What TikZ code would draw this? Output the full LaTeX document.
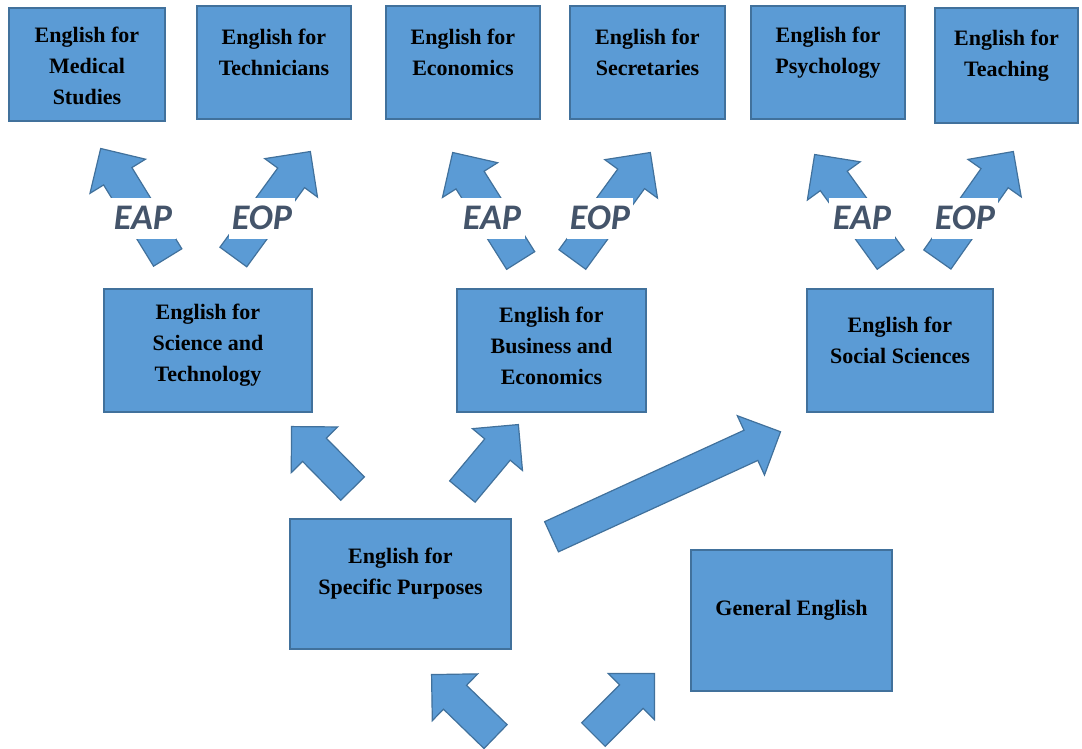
\documentclass[tikz,border=0pt]{standalone}
\usepackage{fontspec}
\setmainfont{Liberation Serif}
\newfontfamily\tagfont{Carlito}
\usetikzlibrary{shapes.arrows,calc}

\definecolor{boxfill}{HTML}{5B9BD5}
\definecolor{boxline}{HTML}{41719C}
\definecolor{tagcol}{HTML}{44546A}

\tikzset{
  box/.style={draw=boxline, fill=boxfill, line width=2.5pt, inner sep=0pt},
  boxtxt/.style={font=\fontsize{22}{31}\selectfont\bfseries, align=center, text=black},
  barrow/.style={single arrow, draw=boxline, fill=boxfill, line width=1.2pt,
                 inner xsep=0pt, inner ysep=16pt, single arrow head extend=16pt,
                 single arrow tip angle=90},
  tag/.style={font=\tagfont\fontsize{36}{36}\selectfont\bfseries\itshape, text=tagcol,
              fill=white, inner sep=0pt, minimum height=41pt, minimum width=66pt}
}

% block arrow from #2 (tail) to #3 (tip), named #1
\newcommand\blockarrow[3]{%
  \path let \p1=($(#3)-(#2)$), \n1={atan2(\y1,\x1)}, \n2={veclen(\x1,\y1)} in
    node[barrow, anchor=tail, rotate=\n1, minimum height=\n2] (#1) at (#2) {};}

\begin{document}
\begin{tikzpicture}[x=1pt, y=-1pt]
\useasboundingbox (0,0) rectangle (1082,749);

% Top row
\node[box, minimum width=156, minimum height=113] (med) at (87,64.5) {}; % Medical
\node[box, minimum width=154, minimum height=113] (tech) at (274,62.5) {}; % Technicians
\node[box, minimum width=154, minimum height=113] (econ) at (463,62.5) {}; % Economics
\node[box, minimum width=155, minimum height=113] (secr) at (647.5,62.5) {}; % Secretaries
\node[box, minimum width=154, minimum height=113] (psych) at (828,62.5) {}; % Psychology
\node[box, minimum width=143, minimum height=115] (teach) at (1006.5,65.5) {}; % Teaching

\node[boxtxt] (medT) at ([yshift=-1pt]med.center) {English for\\Medical\\Studies};
\node[boxtxt] (techT) at ([yshift=10pt]tech.center) {English for\\Technicians};
\node[boxtxt] (econT) at ([yshift=10pt]econ.center) {English for\\Economics};
\node[boxtxt] (secrT) at ([yshift=10pt]secr.center) {English for\\Secretaries};
\node[boxtxt] (psychT) at ([yshift=10pt]psych.center) {English for\\Psychology};
\node[boxtxt] (teachT) at ([yshift=10pt]teach.center) {English for\\Teaching};

% Middle row
\node[box, minimum width=208, minimum height=123] (sci) at (208,350.5) {}; % Science and Technology
\node[box, minimum width=189, minimum height=123] (bus) at (551.5,350.5) {}; % Business and Economics
\node[box, minimum width=186, minimum height=123] (soc) at (900,350.5) {}; % Social Sciences

\node[boxtxt] (sciT) at ([yshift=5pt]sci.center) {English for\\Science and\\Technology};
\node[boxtxt] (busT) at ([yshift=5pt]bus.center) {English for\\Business and\\Economics};
\node[boxtxt] (socT) at ([yshift=10pt]soc.center) {English for\\Social Sciences};

% Bottom row
\node[box, minimum width=221, minimum height=130] (esp) at (400.5,584) {}; % ESP
\node[box, minimum width=201, minimum height=141] (gen) at (791.5,620.5) {}; % General English

\node[boxtxt] (espT) at ([yshift=10pt]esp.center) {English for\\Specific Purposes};
\node[boxtxt] (genT) at ([yshift=10pt]gen.center) {General English};

% Arrow ends
\coordinate (t1) at (168,258);   \coordinate (h1) at (101,149);
\coordinate (t2) at (233,257.5); \coordinate (h2) at (310,152);
\coordinate (t3) at (521,261);   \coordinate (h3) at (453,153);
\coordinate (t4) at (572,260);   \coordinate (h4) at (650,153);
\coordinate (t5) at (891,260);   \coordinate (h5) at (815,155);
\coordinate (t6) at (937,260);   \coordinate (h6) at (1013,152);
\coordinate (t7) at (353,489);   \coordinate (h7) at (292,427);
\coordinate (t8) at (462,492);   \coordinate (h8) at (518,425);
\coordinate (t9) at (551,537);   \coordinate (h9) at (780,432);
\coordinate (t10) at (496,737);  \coordinate (h10) at (432,675);
\coordinate (t11) at (593,735);  \coordinate (h11) at (654,674);

% Block arrows
\blockarrow{a1}{t1}{h1}
\blockarrow{a2}{t2}{h2}
\blockarrow{a3}{t3}{h3}
\blockarrow{a4}{t4}{h4}
\blockarrow{a5}{t5}{h5}
\blockarrow{a6}{t6}{h6}
\blockarrow{a7}{t7}{h7}
\blockarrow{a8}{t8}{h8}
\blockarrow{a9}{t9}{h9}
\blockarrow{a10}{t10}{h10}
\blockarrow{a11}{t11}{h11}

% EAP / EOP tags
\node[tag] (eap1) at (143,218) {EAP};
\node[tag] (eop1) at (262,218) {EOP};
\node[tag] (eap2) at (492,218) {EAP};
\node[tag] (eop2) at (600,218) {EOP};
\node[tag] (eap3) at (862,218) {EAP};
\node[tag] (eop3) at (965,218) {EOP};
\end{tikzpicture}
\end{document}
